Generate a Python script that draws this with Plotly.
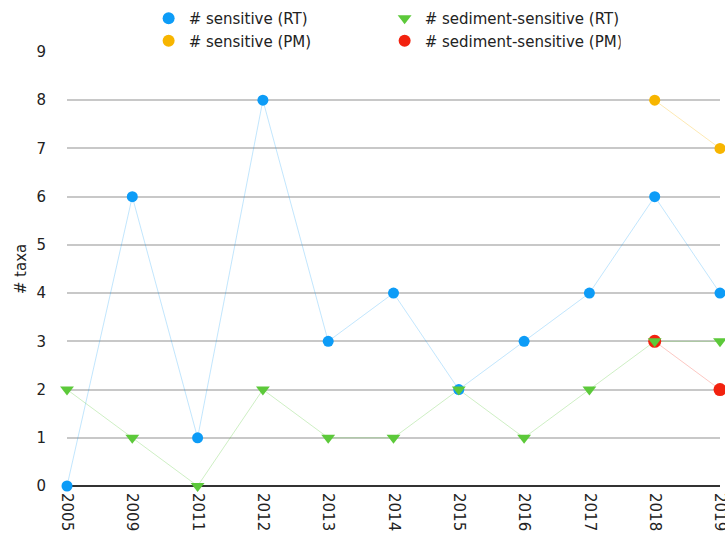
import plotly.graph_objects as go

years = ["2005", "2009", "2011", "2012", "2013", "2014", "2015", "2016", "2017", "2018", "2019"]
sensitive_rt = [0, 6, 1, 8, 3, 4, 2, 3, 4, 6, 4]
sediment_rt = [2, 1, 0, 2, 1, 1, 2, 1, 2, 3, 3]
pm_years = ["2018", "2019"]
sensitive_pm = [8, 7]
sediment_pm = [3, 2]

fig = go.Figure()

series = [
    ("# sediment-sensitive (PM)", pm_years, sediment_pm, "#f2220f", "rgba(242,34,15,0.25)", "circle", 4, 13),
    ("# sensitive (PM)", pm_years, sensitive_pm, "#f7b500", "rgba(247,181,0,0.3)", "circle", 3, 11),
    ("# sensitive (RT)", years, sensitive_rt, "#0d9cf7", "rgba(13,156,247,0.25)", "circle", 1, 11),
    ("# sediment-sensitive (RT)", years, sediment_rt, "#5cc93a", "rgba(92,201,58,0.3)", "triangle-down", 2, 12),
]

for name, x, y, color, lc, symbol, rank, size in series:
    fig.add_trace(go.Scatter(x=x, y=y, mode="lines", line=dict(color=lc, width=1),
                             showlegend=False, hoverinfo="skip", cliponaxis=False))
for name, x, y, color, lc, symbol, rank, size in series:
    fig.add_trace(go.Scatter(
        x=x, y=y, name=name, mode="markers",
        marker=dict(color=color, size=size, symbol=symbol, line=dict(width=0)),
        cliponaxis=False, legendrank=rank,
    ))

fig.update_layout(
    width=725, height=533,
    margin=dict(l=67, r=5, t=52, b=47, autoexpand=False),
    plot_bgcolor="white", paper_bgcolor="white",
    font=dict(family="DejaVu Sans, sans-serif", size=15, color="#222"),
    showlegend=True,
    legend=dict(orientation="h", x=0.125, y=1.115, xanchor="left", yanchor="top",
                entrywidth=191, entrywidthmode="pixels", font=dict(size=15),
                itemsizing="constant", tracegroupgap=0, bgcolor="rgba(0,0,0,0)"),
    xaxis=dict(type="category", categoryorder="array", categoryarray=years,
               range=[0, 10], tickangle=90, showgrid=False, zeroline=False,
               showline=False, ticks="outside", ticklen=3, tickcolor="rgba(0,0,0,0)",
               tickfont=dict(size=15)),
    yaxis=dict(range=[0, 9], dtick=1, showgrid=True, gridcolor="#c8c8c8", gridwidth=2,
               zeroline=True, zerolinecolor="#333", zerolinewidth=2,
               showline=False, ticks="outside", ticklen=17, tickcolor="rgba(0,0,0,0)",
               tickfont=dict(size=15),
               title=dict(text="# taxa", font=dict(size=15), standoff=6)),
)

fig.write_html("out.html", config={"displayModeBar": False},
               post_script="document.body.style.margin='0';document.body.style.overflow='hidden';")
